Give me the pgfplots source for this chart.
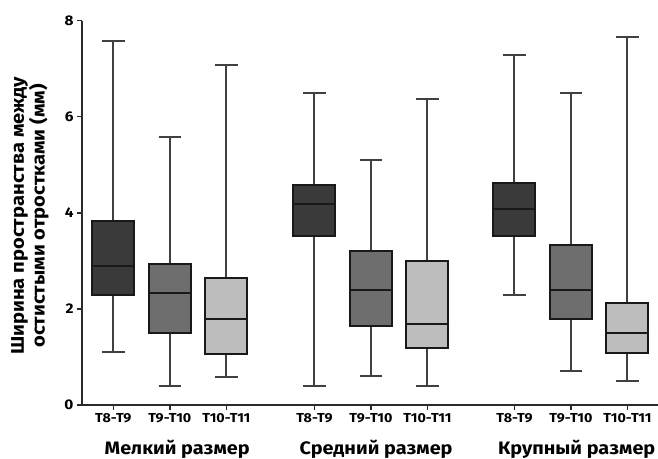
\documentclass[border=0pt]{standalone}
\usepackage{fontspec}
\setmainfont{Fira Sans}
\newfontfamily\lbl[FakeStretch=1.1]{Fira Sans}
\usepackage{pgfplots}
\pgfplotsset{compat=1.18}
\usepgfplotslibrary{statistics}
\definecolor{cDark}{HTML}{3A3A3A}
\definecolor{cMid}{HTML}{6E6E6E}
\definecolor{cLight}{HTML}{BDBDBD}
\definecolor{cLine}{HTML}{2A2A2A}
\definecolor{cWhisk}{HTML}{404040}
\pgfplotsset{bx/.style={draw=black!90, line width=2pt,
  boxplot/every whisker/.style={draw=cWhisk, line width=2pt},
  boxplot/every median/.style={draw=black!90, line width=2pt},
  boxplot/every box/.style={draw=black!90, line width=2pt}}}
\begin{document}
\begin{tikzpicture}
\begin{axis}[name=ax, scale only axis, width=576pt, height=384.3pt,
  xmin=-0.554, xmax=9.64, ymin=0, ymax=8,
  axis lines=left, axis line style={-, line width=1.5pt, draw=cLine},
  tick align=outside, major tick length=5pt,
  tick style={line width=1.4pt, draw=cLine},
  ytick={0,2,4,6,8},
  xtick={0,1,2,3.56,4.56,5.56,7.1,8.1,9.1},
  xticklabels={T8-T9,T9-T10,T10-T11,T8-T9,T9-T10,T10-T11,T8-T9,T9-T10,T10-T11},
  /pgf/number format/assume math mode=true,
  yticklabel style={font=\lbl\fontsize{14}{14}\selectfont\bfseries},
  xticklabel style={font=\lbl\fontsize{13}{13}\selectfont\bfseries},
  ylabel={Ширина пространства между\\остистыми отростками (мм)},
  ylabel style={align=center, font=\lbl\fontsize{18.3}{14.8}\selectfont\bfseries,
    at={(axis description cs:0,0.5)}, anchor=center, yshift=52pt, xshift=-3pt},
  boxplot/draw direction=y,
  boxplot/box extend=0.743, boxplot/whisker extend=0.40,
  clip=false]
\addplot[bx, fill=cDark, boxplot prepared={draw position=0, lower whisker=1.10, lower quartile=2.28, median=2.89, upper quartile=3.82, upper whisker=7.57}] coordinates {};
\addplot[bx, fill=cMid, boxplot prepared={draw position=1, lower whisker=0.39, lower quartile=1.49, median=2.34, upper quartile=2.94, upper whisker=5.58}] coordinates {};
\addplot[bx, fill=cLight, boxplot prepared={draw position=2, lower whisker=0.59, lower quartile=1.07, median=1.78, upper quartile=2.64, upper whisker=7.08}] coordinates {};
\addplot[bx, fill=cDark, boxplot prepared={draw position=3.56, lower whisker=0.39, lower quartile=3.52, median=4.19, upper quartile=4.58, upper whisker=6.49}] coordinates {};
\addplot[bx, fill=cMid, boxplot prepared={draw position=4.56, lower whisker=0.60, lower quartile=1.64, median=2.39, upper quartile=3.20, upper whisker=5.10}] coordinates {};
\addplot[bx, fill=cLight, boxplot prepared={draw position=5.56, lower whisker=0.39, lower quartile=1.19, median=1.69, upper quartile=2.99, upper whisker=6.38}] coordinates {};
\addplot[bx, fill=cDark, boxplot prepared={draw position=7.1, lower whisker=2.29, lower quartile=3.52, median=4.08, upper quartile=4.63, upper whisker=7.29}] coordinates {};
\addplot[bx, fill=cMid, boxplot prepared={draw position=8.1, lower whisker=0.70, lower quartile=1.78, median=2.39, upper quartile=3.33, upper whisker=6.49}] coordinates {};
\addplot[bx, fill=cLight, boxplot prepared={draw position=9.1, lower whisker=0.50, lower quartile=1.09, median=1.49, upper quartile=2.13, upper whisker=7.67}] coordinates {};
\node[font=\lbl\fontsize{18}{18}\selectfont\bfseries, anchor=base, yshift=-50pt] at (axis cs:1.13,0) {Мелкий размер};
\node[font=\lbl\fontsize{18}{18}\selectfont\bfseries, anchor=base, yshift=-50pt] at (axis cs:4.65,0) {Средний размер};
\node[font=\lbl\fontsize{18}{18}\selectfont\bfseries, anchor=base, yshift=-50pt] at (axis cs:8.2,0) {Крупный размер};
\end{axis}
\pgfresetboundingbox
\path ([xshift=-82pt, yshift=-54pt]ax.south west) rectangle ([yshift=20.7pt]ax.north east);
\end{tikzpicture}
\end{document}
